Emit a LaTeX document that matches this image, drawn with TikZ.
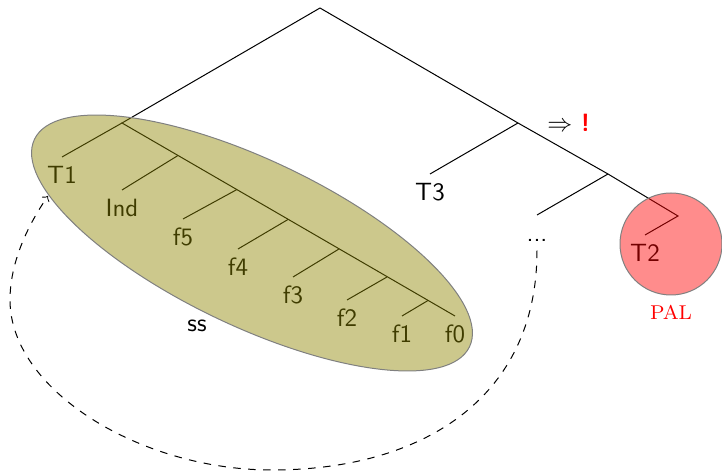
\documentclass[tikz,border=0pt]{standalone}
\begin{document}
\begin{tikzpicture}[x=0.4pt,y=-0.4pt, font=\sffamily,
  leaf/.style={anchor=north, text height=7.2pt, text depth=0pt, inner sep=3.33pt},
  blob/.style={draw=gray, fill opacity=0.45}]
\useasboundingbox (0,0) rectangle (722,472);
% tree points
\coordinate (root) at (320,8);
\coordinate (L) at (122,123);
\coordinate (R) at (518,123);
\coordinate (R2) at (608,174);
\coordinate (R3) at (678,216);
\coordinate (b1) at (178,155.5);
\coordinate (b2) at (237,189.5);
\coordinate (b3) at (288,219.5);
\coordinate (b4) at (339,249);
\coordinate (b5) at (387,277);
\coordinate (b6) at (428,300.5);
% leaves
\node[leaf] (T1) at (62,157) {T1};
\node[leaf] (Ind) at (122,190) {Ind};
\node[leaf] (f5) at (183,219) {f5};
\node[leaf] (f4) at (238,249) {f4};
\node[leaf] (f3) at (293,277) {f3};
\node[leaf] (f2) at (347,300) {f2};
\node[leaf] (f1) at (402,316) {f1};
\node[leaf] (f0) at (455,316) {f0};
\node[leaf] (T3) at (430,174) {T3};
\node[leaf] (dots) at (537,215) {...};
\node[leaf] (T2) at (645,235) {T2};
% edges
\draw (root) -- (L) -- (f0.north);
\draw (L) -- (T1.north);
\draw (b1) -- (Ind.north);
\draw (b2) -- (f5.north);
\draw (b3) -- (f4.north);
\draw (b4) -- (f3.north);
\draw (b5) -- (f2.north);
\draw (b6) -- (f1.north);
\draw (root) -- (R) -- (R2) -- (R3) -- (T2.north);
\draw (R) -- (T3.north);
\draw (R2) -- (dots.north);
% highlighted regions
\path[blob, fill=olive, rotate around={-25.5:(252,243)}] (252,243) ellipse [x radius=241, y radius=83];
\path[blob, fill=red] (671,244) circle [radius=51];
% other labels
\node[anchor=base] (ss) at (197,332) {ss};
\node[anchor=base, font=\rmfamily\footnotesize, text=red] (pal) at (671,320) {PAL};
\node[anchor=base west, inner sep=0pt] (impl) at (547,132) {$\Rightarrow$ \textcolor{red}{\textbf{!}}};
% dashed loop
\coordinate (arrEnd) at (48,196);
\draw[dashed, ->] (dots.south) .. controls (537,400) and (420,470) .. (272,470)
  .. controls (140,470) and (10,390) .. (10,300)
  .. controls (10,262) and (28,225) .. (arrEnd);
\end{tikzpicture}
\end{document}
